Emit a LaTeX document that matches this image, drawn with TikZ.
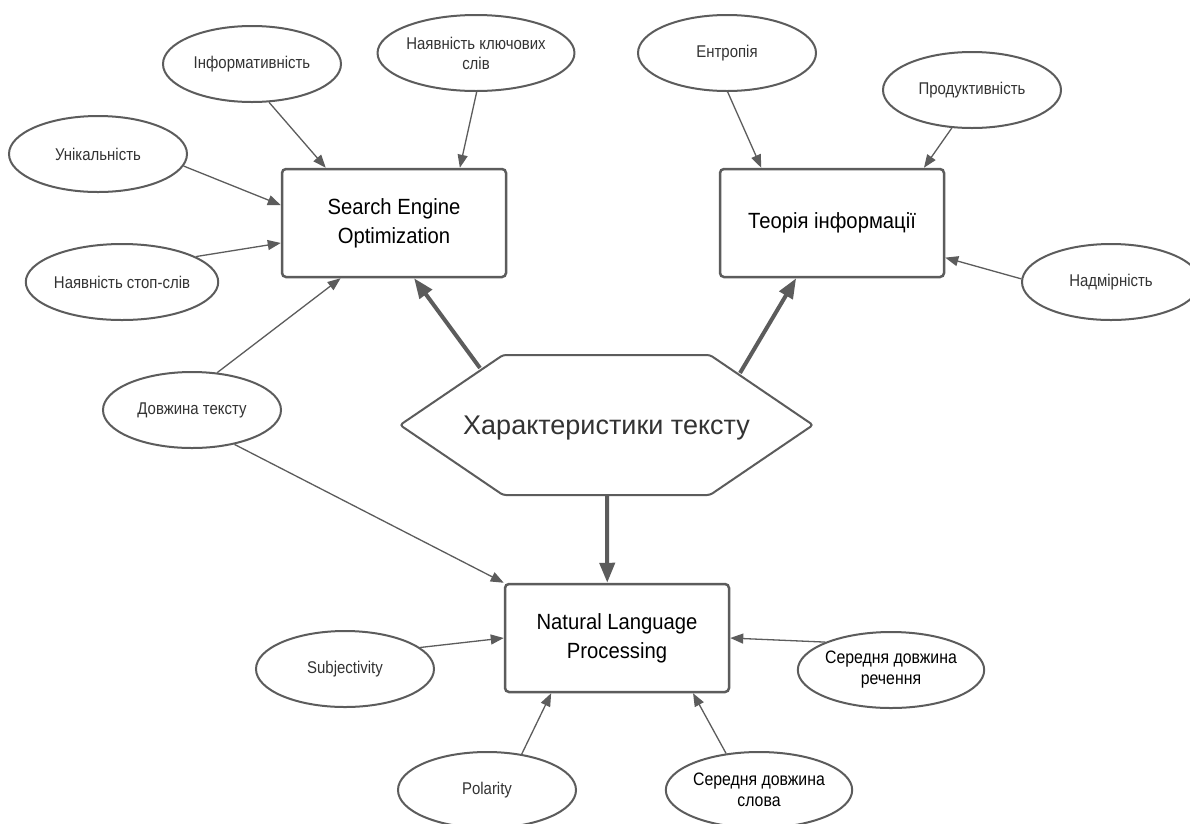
\documentclass[tikz,border=0pt]{standalone}
\usepackage{fontspec}
\setmainfont{Liberation Sans}
\newfontfamily\narrowfont{Liberation Sans}[FakeStretch=0.88]
\newfontfamily\boxfont{Liberation Sans}[FakeStretch=0.92]
\usetikzlibrary{arrows.meta,shapes.geometric}
\definecolor{linegray}{HTML}{5C5C5C}
\definecolor{txtgray}{HTML}{333333}
\tikzset{
  ell/.style={draw=linegray, line width=2pt, ellipse, minimum width=178pt, minimum height=76pt,
    inner sep=0pt, align=center, font=\narrowfont\fontsize{17}{20}\selectfont, text=txtgray},
  ellbig/.style={ell, font=\narrowfont\fontsize{18}{21}\selectfont, text=black},
  box/.style={draw=linegray, line width=2.5pt, rounded corners=4pt, minimum width=224pt,
    minimum height=108pt, inner sep=0pt, align=center, font=\boxfont\fontsize{22}{29}\selectfont, text=black},
  thinarrow/.style={draw=linegray, line width=1.3pt, -{Triangle[length=13pt,width=10pt]}},
  thickarrow/.style={draw=linegray, line width=4pt, -{Triangle[length=20pt,width=15pt]}},
  hexline/.style={draw=linegray, line width=2pt, rounded corners=3pt},
}
\begin{document}
\begin{tikzpicture}[x=1pt,y=-1pt]
\useasboundingbox[fill=white] (0,0) rectangle (1190,823);

% boxes
\node[box] (seo) at (394,223) {Search Engine\\Optimization};
\node[box] (teo) at (832,223) {Теорія інформації};
\node[box] (nlp) at (617,638) {Natural Language\\Processing};

% hexagon
\coordinate (h1) at (400,425);
\coordinate (h2) at (503,355);
\coordinate (h3) at (710,355);
\coordinate (h4) at (813,425);
\coordinate (h5) at (710,495);
\coordinate (h6) at (503,495);
\draw[hexline] (h1) -- (h2) -- (h3) -- (h4) -- (h5) -- (h6) -- cycle;
\node[font=\fontsize{27}{30}\selectfont, text=txtgray] (hex) at (606.5,428) {Характеристики тексту};
\coordinate (hexA) at (480,368);
\coordinate (hexB) at (740,373);
\coordinate (hexC) at (607,495);

% ellipses
\node[ell] (inf) at (252,64) {Інформативність};
\node[ell] (key) at (476,53) {Наявність ключових\\слів};
\node[ell] (uni) at (98,154) {Унікальність};
\node[ell] (stop) at (122,282) {Наявність стоп-слів};
\node[ell] (len) at (192,410) {Довжина тексту};
\node[ell] (ent) at (727,53) {Ентропія};
\node[ell] (prod) at (972,90) {Продуктивність};
\node[ell] (nad) at (1111,282) {Надмірність};
\node[ell] (subj) at (345,669) {Subjectivity};
\node[ell] (pol) at (487,790) {Polarity};
\node[ellbig] (word) at (759,790) {Середня довжина\\слова};
\node[ellbig] (sent) at (891,670) {Середня довжина\\речення};

% thin connectors
\draw[thinarrow] (inf.-66) -- (seo.141);
\draw[thinarrow] (key.-89) -- (seo.40.6);
\draw[thinarrow] (uni.-8) -- (seo.171);
\draw[thinarrow] (stop.19) -- (seo.190.6);
\draw[thinarrow] (len.56) -- (seo.226.6);
\draw[thinarrow] (len.-39) -- (nlp.north west);
\draw[thinarrow] (ent.-89) -- (teo.142.4);
\draw[thinarrow] (prod.-118) -- (teo.31.8);
\draw[thinarrow] (nad.178.7) -- (teo.-17.4);
\draw[thinarrow] (subj.16) -- (nlp.180);
\draw[thinarrow] (pol.46) -- (nlp.-140.3);
\draw[thinarrow] (word.132) -- (nlp.-36.5);
\draw[thinarrow] (sent.157) -- (nlp.0);

% thick connectors
\draw[thickarrow] (hexA) -- (seo.-70.6);
\draw[thickarrow] (hexB) -- (teo.-123);
\draw[thickarrow] (hexC) -- (nlp.100.5);
\end{tikzpicture}
\end{document}
